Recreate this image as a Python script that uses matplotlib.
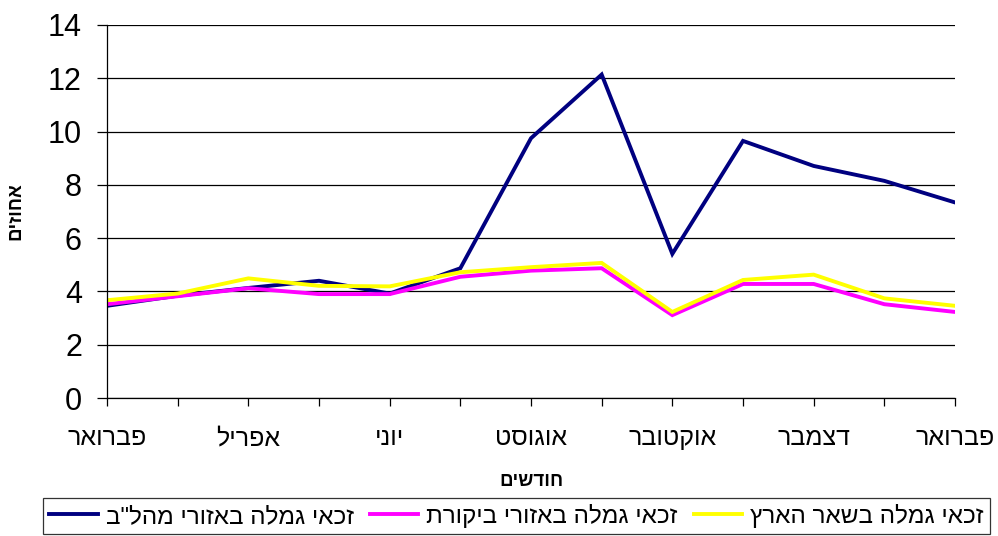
import numpy as np
import matplotlib
matplotlib.use("Agg")
import matplotlib.pyplot as plt

plt.rcParams['font.family'] = ['Liberation Sans', 'DejaVu Sans']

# months, Feb to Feb
months = ["פברואר", "מרץ", "אפריל", "מאי", "יוני", "יולי", "אוגוסט",
          "ספטמבר", "אוקטובר", "נובמבר", "דצמבר", "ינואר", "פברואר"]

mahal = [3.46, 3.84, 4.13, 4.40, 3.92, 4.87, 9.75, 12.14, 5.41, 9.65, 8.71, 8.15, 7.34]
bikoret = [3.52, 3.82, 4.12, 3.90, 3.90, 4.55, 4.78, 4.87, 3.11, 4.28, 4.28, 3.52, 3.23]
shear = [3.67, 3.92, 4.49, 4.21, 4.19, 4.72, 4.91, 5.07, 3.23, 4.43, 4.63, 3.74, 3.46]

series_names = ['זכאי גמלה באזורי מהל"ב', "זכאי גמלה באזורי ביקורת", "זכאי גמלה בשאר הארץ"]
xlabel = "חודשים"
ylabel = "אחוזים"
yticks = [0, 2, 4, 6, 8, 10, 12, 14]


def rtl(s):
    # matplotlib has no bidi, so flip the string for display
    return s[::-1]


fig = plt.figure(figsize=(9.98, 5.36), dpi=100)
ax = fig.add_axes([107 / 998, 1 - 398 / 536, 848 / 998, 373 / 536])

x = np.arange(len(months))
ax.plot(x, mahal, color="#000080", lw=2.8, label=rtl(series_names[0]), solid_joinstyle="miter")
ax.plot(x, bikoret, color="#FF00FF", lw=2.8, label=rtl(series_names[1]), solid_joinstyle="miter")
ax.plot(x, shear, color="#FFFF00", lw=2.8, label=rtl(series_names[2]), solid_joinstyle="miter")

ax.set_xlim(0, len(months) - 1)
ax.set_ylim(0, 14)
ax.set_yticks(yticks)
ax.set_yticklabels([str(v) for v in yticks], fontsize=22)
ax.set_xticks(x)
ax.set_xticklabels([rtl(m) if i % 2 == 0 else "" for i, m in enumerate(months)], fontsize=18)

ax.grid(axis="y", color="black", lw=0.9)
ax.set_axisbelow(True)
for s in ["top", "right"]:
    ax.spines[s].set_visible(False)
ax.spines["left"].set_linewidth(0.9)
ax.spines["bottom"].set_linewidth(0.9)
ax.tick_params(axis="y", direction="out", length=7, width=0.9, pad=11)
ax.tick_params(axis="x", direction="out", length=5.5, width=0.9, pad=15)

ax.set_xlabel(rtl(xlabel), fontsize=13.5, fontweight="bold")
ax.xaxis.set_label_coords(0.5, -0.2)
ax.set_ylabel(rtl(ylabel), fontsize=13.5, fontweight="bold")
ax.yaxis.set_label_coords(-0.097, 0.5)

leg = fig.legend(loc="lower left", bbox_to_anchor=(43 / 998, 2 / 536, 947 / 998, 40 / 536),
                 mode="expand", ncol=3, fontsize=17.5, frameon=True, fancybox=False,
                 handlelength=2.0, handletextpad=0.33, borderaxespad=0, borderpad=0.25,
                 columnspacing=0.3)
leg.get_frame().set_edgecolor("black")
leg.get_frame().set_linewidth(0.9)

fig.savefig("out.png", dpi=100)
